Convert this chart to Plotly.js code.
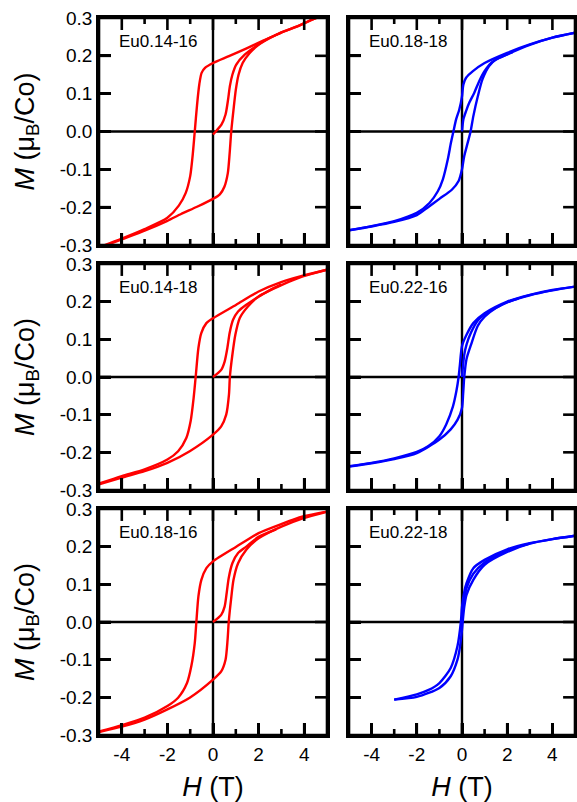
<!DOCTYPE html>
<html>
<head>
<meta charset="utf-8">
<script src="https://cdn.plot.ly/plotly-3.0.1.min.js"></script>
<style>html,body{margin:0;padding:0;background:#fff;}#chart{width:577px;height:802px;}</style>
</head>
<body>
<div id="chart"></div>
<script>
// ---------- data (H in T, M in muB/Co) ----------
const panelLabels = ['Eu0.14-16', 'Eu0.18-18', 'Eu0.14-18', 'Eu0.22-16', 'Eu0.18-16', 'Eu0.22-18'];

// Eu0.14-16
const H_desc_1416 = [5, 4.4, 3.65, 2.9, 2.2, 1.45, 0.7, 0, -0.35, -0.5, -0.6, -0.7, -0.8, -0.9, -1.0, -1.2, -1.5, -2, -3, -4, -5];
const M_desc_1416 = [0.310, 0.297, 0.277, 0.259, 0.240, 0.219, 0.199, 0.181, 0.168, 0.155, 0.125, 0.070, 0.000, -0.068, -0.118, -0.163, -0.196, -0.228, -0.258, -0.283, -0.306];
const H_asc_1416 = [-5, -4, -3, -2, -1.4, -0.7, 0, 0.3, 0.5, 0.65, 0.73, 0.8, 0.9, 1.0, 1.12, 1.3, 1.6, 2.0, 2.5, 3.0, 3.7, 4.4, 5];
const M_asc_1416 = [-0.308, -0.285, -0.262, -0.236, -0.218, -0.199, -0.178, -0.166, -0.146, -0.110, -0.058, 0.000, 0.058, 0.110, 0.150, 0.181, 0.207, 0.229, 0.247, 0.262, 0.278, 0.297, 0.310];
const H_vir_1416 = [0, 0.15, 0.37, 0.55, 0.66, 0.74, 0.85, 1.02, 1.39, 1.9, 2.4, 3.0];
const M_vir_1416 = [-0.008, 0.002, 0.018, 0.045, 0.084, 0.120, 0.150, 0.177, 0.203, 0.226, 0.245, 0.261];

// Eu0.14-18
const H_desc_1418 = [5, 3.94, 2.99, 2.0, 1.02, 0, -0.29, -0.51, -0.64, -0.76, -0.85, -0.98, -1.17, -1.53, -2.0, -3.0, -4.0, -5];
const M_desc_1418 = [0.285, 0.269, 0.252, 0.227, 0.192, 0.156, 0.143, 0.117, 0.077, 0.000, -0.056, -0.117, -0.162, -0.197, -0.219, -0.245, -0.263, -0.283];
const H_asc_1418 = [-5, -4, -3, -2, -1.02, 0, 0.36, 0.58, 0.7, 0.74, 0.85, 0.98, 1.17, 1.53, 2.0, 3.0, 3.94, 5];
const M_asc_1418 = [-0.285, -0.267, -0.250, -0.228, -0.197, -0.153, -0.131, -0.100, -0.047, 0.000, 0.059, 0.112, 0.156, 0.187, 0.214, 0.244, 0.267, 0.285];
const H_vir_1418 = [0, 0.36, 0.51, 0.63, 0.73, 0.88, 1.1, 1.46, 2.0, 2.5, 3.0];
const M_vir_1418 = [0, 0.019, 0.041, 0.077, 0.117, 0.152, 0.174, 0.192, 0.213, 0.231, 0.246];

// Eu0.18-16
const H_desc_1816 = [5, 3.94, 2.99, 2.0, 1.02, 0, -0.29, -0.51, -0.64, -0.73, -0.8, -0.95, -1.14, -1.53, -2.0, -3.0, -4.0, -5];
const M_desc_1816 = [0.293, 0.280, 0.260, 0.236, 0.200, 0.161, 0.143, 0.112, 0.068, 0.000, -0.056, -0.117, -0.162, -0.201, -0.223, -0.254, -0.274, -0.291];
const H_asc_1816 = [-5, -4, -3, -2, -1.02, 0, 0.36, 0.55, 0.64, 0.69, 0.79, 0.9, 1.1, 1.46, 2.0, 3.0, 3.94, 5];
const M_asc_1816 = [-0.292, -0.278, -0.259, -0.232, -0.201, -0.153, -0.131, -0.100, -0.047, 0.000, 0.059, 0.112, 0.156, 0.192, 0.222, 0.253, 0.275, 0.293];
const H_vir_1816 = [0, 0.36, 0.51, 0.6, 0.69, 0.85, 1.1, 1.46, 2.0, 2.77];
const M_vir_1816 = [0, 0.019, 0.041, 0.077, 0.117, 0.156, 0.183, 0.200, 0.226, 0.246];

// Eu0.18-18
const H_desc_1818 = [5, 4, 3, 2, 1, 0.47, 0.18, 0.06, 0, -0.12, -0.26, -0.38, -0.49, -0.63, -0.85, -1.07, -1.44, -2, -3, -4, -5];
const M_desc_1818 = [0.261, 0.248, 0.230, 0.208, 0.181, 0.159, 0.142, 0.124, 0.093, 0.058, 0.032, 0.000, -0.030, -0.074, -0.127, -0.158, -0.189, -0.215, -0.237, -0.250, -0.261];
const H_asc_1818 = [-5, -4, -3, -2, -1.5, -1.0, -0.45, -0.15, 0, 0.1, 0.25, 0.38, 0.5, 0.7, 0.9, 1.2, 1.5, 2, 3, 4, 5];
const M_asc_1818 = [-0.261, -0.251, -0.239, -0.221, -0.200, -0.178, -0.154, -0.131, -0.100, -0.065, -0.030, 0.000, 0.040, 0.093, 0.137, 0.173, 0.190, 0.204, 0.229, 0.248, 0.261];
const H_vir_1818 = [0, 0.06, 0.18, 0.32, 0.54, 0.76, 0.99, 1.28, 1.65, 2.24];
const M_vir_1818 = [0, 0.032, 0.054, 0.076, 0.102, 0.133, 0.159, 0.181, 0.195, 0.210];

// Eu0.22-16
const H_desc_2216 = [5, 4, 3, 2, 1, 0.5, 0.2, 0, -0.1, -0.15, -0.25, -0.4, -0.7, -1, -1.5, -2, -3, -4, -5];
const M_desc_2216 = [0.240, 0.231, 0.218, 0.200, 0.169, 0.143, 0.112, 0.082, 0.028, 0.000, -0.038, -0.078, -0.126, -0.157, -0.184, -0.199, -0.216, -0.228, -0.237];
const H_asc_2216 = [-5, -4, -3, -2, -1, -0.5, -0.2, 0, 0.05, 0.1, 0.2, 0.4, 0.7, 1, 1.5, 2, 3, 4, 5];
const M_asc_2216 = [-0.238, -0.229, -0.218, -0.202, -0.166, -0.139, -0.114, -0.082, -0.045, 0.000, 0.048, 0.086, 0.136, 0.160, 0.183, 0.198, 0.217, 0.230, 0.240];
const H_vir_2216 = [0, 0.05, 0.1, 0.2, 0.4, 0.7, 1, 1.5, 2, 2.5];
const M_vir_2216 = [0, 0.033, 0.059, 0.086, 0.118, 0.150, 0.166, 0.184, 0.199, 0.208];

// Eu0.22-18
const H_desc_2218 = [5, 4, 3, 2, 1, 0.5, 0.2, 0.1, 0, -0.05, -0.2, -0.5, -1, -1.5, -2, -3];
const M_desc_2218 = [0.229, 0.220, 0.209, 0.193, 0.165, 0.143, 0.103, 0.080, 0.040, 0.000, -0.064, -0.122, -0.162, -0.181, -0.192, -0.206];
const H_asc_2218 = [-3, -2, -1, -0.5, -0.2, -0.1, 0, 0.03, 0.1, 0.2, 0.5, 1, 2, 3, 4, 5];
const M_asc_2218 = [-0.206, -0.199, -0.175, -0.144, -0.100, -0.070, -0.020, 0.000, 0.040, 0.072, 0.112, 0.152, 0.186, 0.208, 0.220, 0.229];
const H_vir_2218 = [0, 0.05, 0.1, 0.2, 0.5, 1, 2, 3];
const M_vir_2218 = [0, 0.035, 0.058, 0.090, 0.128, 0.158, 0.190, 0.208];

// tick labels
const xTickVals = [-4, -2, 0, 2, 4];
const xTickText = ['-4', '-2', '0', '2', '4'];
const xMinorVals = [-3, -1, 1, 3];
const yTickVals = [-0.3, -0.2, -0.1, 0, 0.1, 0.2, 0.3];
const yTickText = ['-0.3', '-0.2', '-0.1', '0.0', '0.1', '0.2', '0.3'];

// ---------- build ----------
const RED = '#ff0000', BLUE = '#0000ff';
const panels = [
  {ax: '', color: RED, d: [[H_desc_1416, M_desc_1416], [H_asc_1416, M_asc_1416], [H_vir_1416, M_vir_1416]]},
  {ax: '2', color: BLUE, d: [[H_desc_1818, M_desc_1818], [H_asc_1818, M_asc_1818], [H_vir_1818, M_vir_1818]]},
  {ax: '3', color: RED, d: [[H_desc_1418, M_desc_1418], [H_asc_1418, M_asc_1418], [H_vir_1418, M_vir_1418]]},
  {ax: '4', color: BLUE, d: [[H_desc_2216, M_desc_2216], [H_asc_2216, M_asc_2216], [H_vir_2216, M_vir_2216]]},
  {ax: '5', color: RED, d: [[H_desc_1816, M_desc_1816], [H_asc_1816, M_asc_1816], [H_vir_1816, M_vir_1816]]},
  {ax: '6', color: BLUE, d: [[H_desc_2218, M_desc_2218], [H_asc_2218, M_asc_2218], [H_vir_2218, M_vir_2218]]}
];

const traces = [];
panels.forEach(p => {
  p.d.forEach(pair => {
    traces.push({
      type: 'scatter', mode: 'lines',
      x: pair[0], y: pair[1],
      xaxis: 'x' + p.ax, yaxis: 'y' + p.ax,
      line: {color: p.color, width: 2.4, shape: 'spline', smoothing: 0.7},
      showlegend: false, hoverinfo: 'skip'
    });
  });
});

const FONT = 'Liberation Sans, Arial, Helvetica, sans-serif';
const W = 577, Hh = 802;
const mL = 99, mR = 2, mT = 18, mB = 67;
const pw = W - mL - mR, ph = Hh - mT - mB;
const colDom = [[0, 228 / pw], [250 / pw, 1]];
const rowPix = [[18, 245], [264, 490], [509, 735]];
const rowDom = rowPix.map(r => [(735 - r[1]) / ph, (735 - r[0]) / ph]);
const LW = 2.6;
const PANEL_W = 228, PANEL_H = 227;
const MAJ = 12, MIN = 6;

function xAx(dom, anchor, labels, title) {
  const a = {
    domain: dom, anchor: anchor, range: [-5, 5],
    showgrid: false, zeroline: false,
    showline: true, linecolor: '#000', linewidth: LW, mirror: true,
    ticks: 'inside', ticklen: MAJ, tickwidth: LW, tickcolor: '#000',
    tickmode: 'array', tickvals: xTickVals, ticktext: xTickText,
    showticklabels: labels,
    tickfont: {family: FONT, size: 19, color: '#000'}
  };
  if (title) a.title = {text: '<i>H</i> (T)', font: {family: FONT, size: 27, color: '#000'}, standoff: 14};
  return a;
}
function yAx(dom, anchor, labels, title) {
  const a = {
    domain: dom, anchor: anchor, range: [-0.3, 0.3],
    showgrid: false, zeroline: false,
    showline: true, linecolor: '#000', linewidth: LW, mirror: true,
    ticks: 'inside', ticklen: MAJ, tickwidth: LW, tickcolor: '#000',
    tickmode: 'array', tickvals: yTickVals, ticktext: yTickText,
    showticklabels: labels,
    tickfont: {family: FONT, size: 19, color: '#000'}
  };
  if (title) a.title = {text: '<i>M</i> (μ<sub>B</sub>/Co)', font: {family: FONT, size: 27, color: '#000'}, standoff: 18};
  return a;
}

const layout = {
  width: W, height: Hh,
  margin: {l: mL, r: mR, t: mT, b: mB, pad: 0},
  paper_bgcolor: '#fff', plot_bgcolor: '#fff',
  font: {family: FONT, color: '#000'},
  showlegend: false,
  annotations: [],
  shapes: []
};
const tickLine = {color: '#000', width: LW};
const zeroLine = {color: '#000', width: 2.4};
for (let i = 0; i < 6; i++) {
  const r = Math.floor(i / 2), c = i % 2;
  const ax = i === 0 ? '' : String(i + 1);
  const xr = 'x' + ax, yr = 'y' + ax;
  layout['xaxis' + ax] = xAx(colDom[c], yr, r === 2, r === 2);
  layout['yaxis' + ax] = yAx(rowDom[r], xr, c === 0, c === 0);
  layout.annotations.push({
    text: panelLabels[i], showarrow: false,
    xref: xr + ' domain', yref: yr + ' domain',
    x: 0.079, y: 0.895, xanchor: 'left', yanchor: 'middle',
    font: {family: FONT, size: 17, color: '#000'}
  });
  // zero lines (H = 0 and M = 0), under the curves
  layout.shapes.push({type: 'line', xref: xr, yref: yr + ' domain', x0: 0, x1: 0, y0: 0, y1: 1, line: zeroLine, layer: 'below'});
  layout.shapes.push({type: 'line', xref: xr + ' domain', yref: yr, x0: 0, x1: 1, y0: 0, y1: 0, line: zeroLine, layer: 'below'});
  // frame
  layout.shapes.push({type: 'rect', xref: xr + ' domain', yref: yr + ' domain', x0: 0, x1: 1, y0: 0, y1: 1,
    line: tickLine, fillcolor: 'rgba(0,0,0,0)', layer: 'above'});
  // x ticks (bottom and top), long at labelled values, short at odd values
  [[xTickVals, MAJ], [xMinorVals, MIN]].forEach(([vals, len]) => {
    vals.forEach(v => {
      const f = len / PANEL_H;
      layout.shapes.push({type: 'line', xref: xr, yref: yr + ' domain', x0: v, x1: v, y0: 0, y1: f, line: tickLine, layer: 'above'});
      layout.shapes.push({type: 'line', xref: xr, yref: yr + ' domain', x0: v, x1: v, y0: 1, y1: 1 - f, line: tickLine, layer: 'above'});
    });
  });
  // y ticks (left and right)
  yTickVals.slice(1, -1).forEach(v => {
    const f = MAJ / PANEL_W;
    layout.shapes.push({type: 'line', xref: xr + ' domain', yref: yr, x0: 0, x1: f, y0: v, y1: v, line: tickLine, layer: 'above'});
    layout.shapes.push({type: 'line', xref: xr + ' domain', yref: yr, x0: 1, x1: 1 - f, y0: v, y1: v, line: tickLine, layer: 'above'});
  });
}

Plotly.newPlot('chart', traces, layout, {displayModeBar: false});
</script>
</body>
</html>
